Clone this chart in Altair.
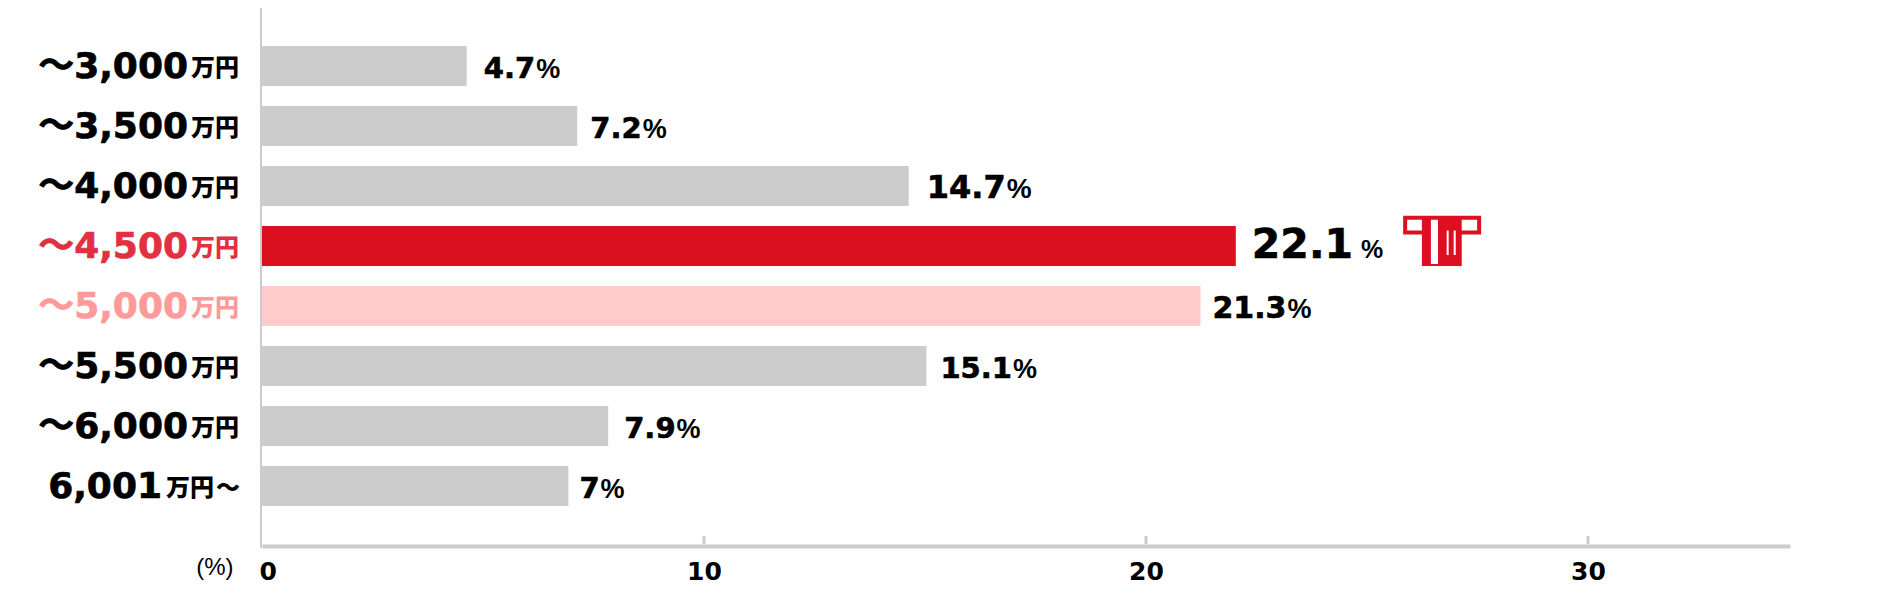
import altair as alt
import pandas as pd

categories = ["c1", "c2", "c3", "c4", "c5", "c6", "c7", "c8"]
label_numbers = ["〜3,000", "〜3,500", "〜4,000", "〜4,500", "〜5,000", "〜5,500", "〜6,000", "6,001"]
label_tails = ["", "", "", "", "", "", "", "〜"]
values = [4.7, 7.2, 14.7, 22.1, 21.3, 15.1, 7.9, 7.0]
value_texts = ["4.7", "7.2", "14.7", "22.1", "21.3", "15.1", "7.9", "7"]
value_sizes = [29, 29, 32, 41, 30, 29, 29, 29]
value_gaps = [14, 10, 15, 13, 9, 11, 13, 8]
pct_sizes = [27, 27, 28, 25, 27, 27, 27, 27]
bar_colors = ["#cccccc", "#cccccc", "#cccccc", "#da101f", "#ffcbcb", "#cccccc", "#cccccc", "#cccccc"]
label_colors = ["#000000", "#000000", "#000000", "#e1303f", "#ff9a9a", "#000000", "#000000", "#000000"]
x_ticks = [0, 10, 20, 30]
icon_pos = 26.7

ICON = (
    "M-1,-0.773 L1,-0.773 L1,-0.292 L0.502,-0.292 L0.502,0.515 L-0.519,0.515 L-0.519,-0.292 L-1,-0.292 Z "
    "M-0.897,-0.67 L-0.897,-0.395 L-0.519,-0.395 L-0.519,-0.67 Z "
    "M0.502,-0.67 L0.502,-0.395 L0.897,-0.395 L0.897,-0.67 Z "
    "M-0.288,-0.67 L-0.288,0.464 L-0.107,0.464 L-0.107,-0.67 Z "
    "M0.116,-0.395 L0.116,0.232 L0.167,0.232 L0.167,-0.395 Z "
    "M0.296,-0.395 L0.296,0.232 L0.348,0.232 L0.348,-0.395 Z"
)

df = pd.DataFrame({
    "cat": categories, "num": label_numbers, "end": label_tails, "value": values,
    "vt": value_texts, "bar": bar_colors, "lab": label_colors, "unit": "万円", "pct": "%",
    "size": value_sizes, "gap": value_gaps, "psize": pct_sizes, "zero": 0,
})

X = alt.X("value:Q", scale=alt.Scale(domain=[0, 34.57], nice=False, zero=False), title="(%)",
          axis=alt.Axis(values=x_ticks, grid=False, tickSize=0, domainColor="#cccccc", domainWidth=4,
                        labelFont="DejaVu Sans", labelFontWeight="bold", labelFontSize=25, labelColor="#000000",
                        labelPadding=13, labelFlush=True, labelFlushOffset=3, format="d",
                        titleFont="Liberation Sans", titleFontWeight="normal", titleFontSize=24, titleColor="#000000",
                        titleX=-29, titleY=28, titleAlign="right", titleBaseline="alphabetic", titleAnchor="start"))
Y = alt.Y("cat:N", axis=None, sort=categories,
          scale=alt.Scale(domain=categories, range=[28, 508], paddingInner=1/3, paddingOuter=1/6))
COL = alt.Color("bar:N", scale=None)
LAB = alt.Color("lab:N", scale=None)
LABS = alt.Stroke("lab:N", scale=None)

bars = alt.Chart(df).mark_bar(cornerRadius=0, xOffset=-3, x2Offset=0).encode(
    x=X, x2=alt.X2("zero:Q"), y=Y, color=COL)

y_line = alt.Chart(pd.DataFrame({"value": [0]})).mark_rule(color="#cccccc", strokeWidth=2, xOffset=-1).encode(
    x=alt.X("value:Q"), y=alt.value(0), y2=alt.value(540))
ticks = alt.Chart(pd.DataFrame({"value": x_ticks[1:]})).mark_rule(color="#cccccc", strokeWidth=3).encode(
    x=alt.X("value:Q"), y=alt.value(528), y2=alt.value(536))

top = df[df["end"] == ""]
last = df[df["end"] != ""]
NUM = dict(font="DejaVu Sans, Noto Sans CJK JP", fontWeight="bold", fontSize=36, baseline="alphabetic",
           align="right", dy=12, strokeWidth=0.7)
UNIT = dict(font="Noto Sans CJK JP", fontWeight=900, fontSize=24, baseline="alphabetic", align="right", dy=10)

left = [
    alt.Chart(top).mark_text(**NUM).encode(x=alt.value(-74), y=Y, text="num:N", color=LAB, stroke=LABS),
    alt.Chart(top).mark_text(**UNIT).encode(x=alt.value(-23), y=Y, text="unit:N", color=LAB),
    alt.Chart(last).mark_text(**NUM).encode(x=alt.value(-100), y=Y, text="num:N", color=LAB, stroke=LABS),
    alt.Chart(last).mark_text(**UNIT).encode(x=alt.value(-48), y=Y, text="unit:N", color=LAB),
    alt.Chart(last).mark_text(**UNIT).encode(x=alt.value(-22), y=Y, text="end:N", color=LAB),
]


def text_width(s, size):
    return sum(0.38 if ch == "." else 0.696 for ch in s) * size


value_layers = []
for i, row in df.iterrows():
    big = row["cat"] == "c4"
    size = int(row["size"])
    base = int(row["gap"])
    w = text_width(row["vt"], size)
    sub = df[df["cat"] == row["cat"]]
    value_layers.append(alt.Chart(sub).mark_text(
        font="DejaVu Sans", fontWeight="bold", fontSize=size, align="left", baseline="alphabetic",
        dx=base, dy=12, color="#000000", stroke="#000000", strokeWidth=0.6
    ).encode(x=alt.X("value:Q"), y=Y, text="vt:N"))
    value_layers.append(alt.Chart(sub).mark_text(
        font="Liberation Sans", fontWeight="bold", fontSize=int(row["psize"]), align="left", baseline="alphabetic",
        dx=base + w + (8 if big else 1), dy=12, color="#000000"
    ).encode(x=alt.X("value:Q"), y=Y, text="pct:N"))

icon = alt.Chart(pd.DataFrame({"value": [icon_pos], "cat": ["c4"]})).mark_point(
    shape=ICON, filled=True, color="#dc1020", opacity=1, size=6084, strokeWidth=0
).encode(x=alt.X("value:Q"), y=Y)

chart = alt.layer(bars, y_line, ticks, *left, *value_layers, icon).properties(
    width=1528, height=538,
    background="#ffffff",
    autosize=alt.AutoSizeParams(type="none"),
    padding={"left": 254, "top": 0, "right": 60, "bottom": 38},
).configure_view(strokeWidth=0)

chart.save("out.html", embed_options={"renderer": "svg", "actions": False})
